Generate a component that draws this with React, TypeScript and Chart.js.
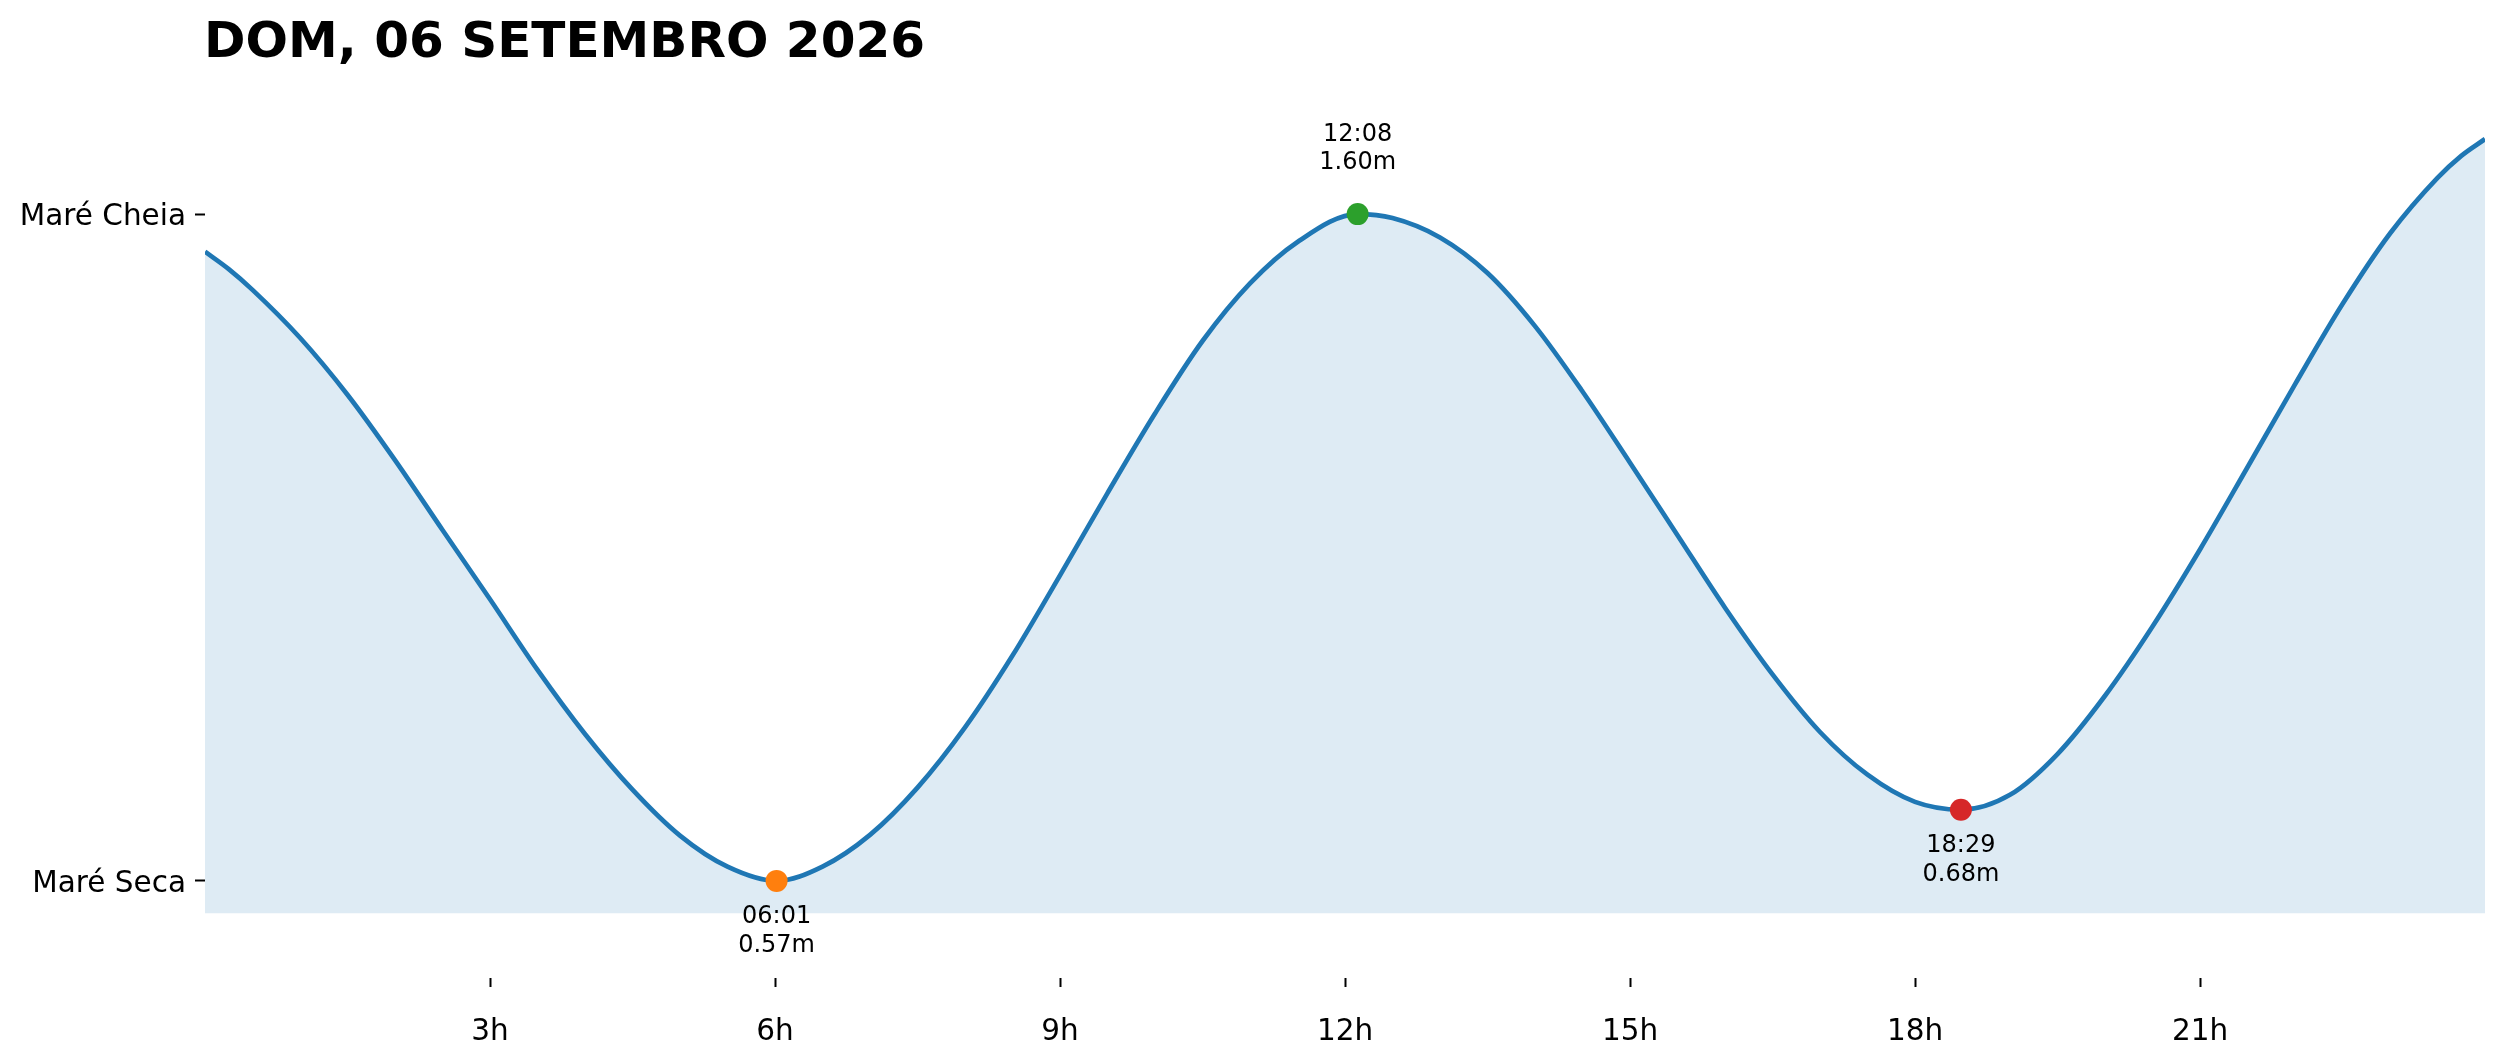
import React, { useEffect, useRef } from "react";
import { Chart, registerables } from "chart.js";

Chart.register(...registerables);

const chartTitle = "DOM, 06 SETEMBRO 2026";

// tide curve read every half hour (extremes added separately)
const curveHours = [
  0, 0.25, 0.5, 1, 1.5, 2, 2.5, 3, 3.5, 4, 4.5, 5, 5.5,
  6.5, 7, 7.5, 8, 8.5, 9, 9.5, 10, 10.5, 11, 11.5,
  12.5, 13, 13.5, 14, 14.5, 15, 15.5, 16, 16.5, 17, 17.5, 18,
  19, 19.5, 20, 20.5, 21, 21.5, 22, 22.5, 23, 23.5, 23.75, 24,
];
const curveHeights = [
  1.542, 1.515, 1.483, 1.409, 1.321, 1.22, 1.112, 1.005, 0.896, 0.797, 0.711, 0.64, 0.592,
  0.592, 0.641, 0.714, 0.807, 0.918, 1.042, 1.169, 1.292, 1.404, 1.493, 1.557,
  1.594, 1.564, 1.509, 1.427, 1.326, 1.216, 1.104, 0.992, 0.889, 0.8, 0.734, 0.692,
  0.703, 0.766, 0.856, 0.963, 1.082, 1.209, 1.337, 1.461, 1.57, 1.656, 1.69, 1.716,
];

// tide extremes
const extremeTimes = ["06:01", "12:08", "18:29"];
const extremeHeights = [0.57, 1.6, 0.68];
const extremeIsHigh = [false, true, false];

const xTickHours = [3, 6, 9, 12, 15, 18, 21];
const yTickValues = [0.57, 1.6];
const yTickLabels = ["Maré Seca", "Maré Cheia"];

const extremeColors = ["#ff7f0e", "#2ca02c", "#d62728"];

const toHours = (t: string) => {
  const [h, m] = t.split(":").map(Number);
  return h + m / 60;
};

export default function App() {
  const ref = useRef<HTMLCanvasElement | null>(null);

  useEffect(() => {
    if (!ref.current) return;
    const extremeX = extremeTimes.map(toHours);
    const pts = curveHours.map((h, i) => ({ x: h, y: curveHeights[i] }));
    extremeX.forEach((h, i) => pts.push({ x: h, y: extremeHeights[i] }));
    pts.sort((a, b) => a.x - b.x);

    const minH = Math.min(...extremeHeights);
    const maxH = Math.max(...extremeHeights);

    const FONT = "'DejaVu Sans', sans-serif";

    const annotPlugin = {
      id: "annot",
      afterDatasetsDraw(chart: any) {
        const ctx = chart.ctx;
        const xs = chart.scales.x;
        const ys = chart.scales.y;
        ctx.save();
        ctx.font = `24px ${FONT}`;
        ctx.fillStyle = "#000";
        ctx.textAlign = "center";
        ctx.textBaseline = "middle";
        extremeX.forEach((h, i) => {
          const px = xs.getPixelForValue(h);
          const py = ys.getPixelForValue(extremeHeights[i]);
          const l1 = extremeTimes[i];
          const l2 = extremeHeights[i].toFixed(2) + "m";
          if (extremeIsHigh[i]) {
            ctx.fillText(l1, px, py - 79);
            ctx.fillText(l2, px, py - 51);
          } else {
            ctx.fillText(l1, px, py + 36);
            ctx.fillText(l2, px, py + 65);
          }
        });
        ctx.restore();
      },
      afterDraw(chart: any) {
        const ctx = chart.ctx;
        ctx.save();
        ctx.font = `bold 50px ${FONT}`;
        ctx.fillStyle = "#000";
        ctx.textAlign = "left";
        ctx.textBaseline = "alphabetic";
        ctx.fillText(chartTitle, 204, 57);
        ctx.restore();
      },
    };

    const chart = new Chart(ref.current, {
      type: "line",
      data: {
        datasets: [
          {
            type: "scatter",
            data: extremeX.map((h, i) => ({ x: h, y: extremeHeights[i] })),
            pointRadius: 11,
            pointHoverRadius: 11,
            pointBackgroundColor: extremeColors,
            pointBorderWidth: 0,
            borderWidth: 0,
            order: 0,
          } as any,
          {
            type: "line",
            data: pts,
            borderColor: "#1f77b4",
            borderWidth: 4.7,
            pointRadius: 0,
            cubicInterpolationMode: "monotone",
            fill: { value: minH - 0.05 },
            backgroundColor: "rgba(31,119,180,0.15)",
            order: 1,
          },
        ],
      },
      options: {
        responsive: false,
        devicePixelRatio: 1,
        animation: false,
        layout: { padding: { top: 117, right: 16, left: 0, bottom: 0 } },
        plugins: {
          legend: { display: false },
          tooltip: { enabled: false },
          title: { display: false },
        },
        scales: {
          x: {
            type: "linear",
            min: 0,
            max: 24,
            afterBuildTicks: (s: any) => {
              s.ticks = xTickHours.map((v) => ({ value: v }));
            },
            afterFit: (s: any) => {
              s.height = 84;
            },
            ticks: {
              autoSkip: false,
              maxRotation: 0,
              padding: 28,
              color: "#000",
              font: { family: FONT, size: 29.5 },
              callback: (v: any) => `${v}h`,
            },
            grid: {
              display: true,
              drawOnChartArea: false,
              drawTicks: true,
              tickLength: 9,
              tickColor: "#000",
              tickWidth: 2,
            },
            border: { display: false },
          },
          y: {
            type: "linear",
            min: minH - 0.15,
            max: maxH + 0.15,
            afterBuildTicks: (s: any) => {
              s.ticks = yTickValues.map((v) => ({ value: v }));
            },
            afterFit: (s: any) => {
              s.width = 205;
            },
            ticks: {
              autoSkip: false,
              padding: 9,
              labelOffset: 3,
              color: "#000",
              font: { family: FONT, size: 29.5 },
              callback: (v: any) => {
                const idx = yTickValues.findIndex((t) => Math.abs(t - Number(v)) < 1e-6);
                return idx >= 0 ? yTickLabels[idx] : "";
              },
            },
            grid: {
              display: true,
              drawOnChartArea: false,
              drawTicks: true,
              tickLength: 10,
              tickColor: "#000",
              tickWidth: 2,
            },
            border: { display: false },
          },
        },
      },
      plugins: [annotPlugin],
    } as any);

    return () => chart.destroy();
  }, []);

  return (
    <div style={{ position: "absolute", left: 0, top: 0, width: 2501, height: 1062, background: "#fff" }}>
      <canvas ref={ref} width={2501} height={1062} style={{ width: 2501, height: 1062, display: "block" }} />
    </div>
  );
}
